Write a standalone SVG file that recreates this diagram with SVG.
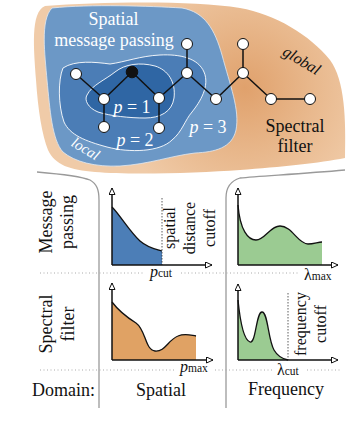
<svg xmlns="http://www.w3.org/2000/svg" width="346" height="422" viewBox="0 0 346 422">
<style>
.serif{font-family:"Liberation Serif","DejaVu Serif",serif;}
.lbl{font-family:"Liberation Serif","DejaVu Serif",serif;font-size:18px;fill:#111;}
.wl{font-family:"Liberation Serif","DejaVu Serif",serif;font-size:18px;fill:#fff;}
.small{font-family:"Liberation Serif","DejaVu Serif",serif;font-size:16px;fill:#111;}
.it{font-style:italic;}
.edge{stroke:#111;stroke-width:1.5;fill:none;}
.node{fill:#fff;stroke:#111;stroke-width:1;}
.axis{stroke:#111;stroke-width:1.5;fill:none;}
.curve{stroke:#111;stroke-width:1.3;fill:none;}
.sep{stroke:#9a9a9a;stroke-width:1.3;fill:none;}
.hdot{stroke:#aaa;stroke-width:1;stroke-dasharray:1 2.5;fill:none;}
.vdot{stroke:#333;stroke-width:0.8;stroke-dasharray:1.5 1.5;fill:none;}
</style>
<defs>
<radialGradient id="og" gradientUnits="userSpaceOnUse" cx="245" cy="88" r="130">
<stop offset="0" stop-color="#e0a16c"/>
<stop offset="0.5" stop-color="#e8b78b"/>
<stop offset="1" stop-color="#f0cba8"/>
</radialGradient>
<marker id="ar" markerWidth="10" markerHeight="10" refX="7" refY="3.5" orient="auto" markerUnits="userSpaceOnUse">
<path d="M0.5,0.5 L7,3.5 L0.5,6.5 Z" fill="#fff" stroke="#111" stroke-width="1"/>
</marker>
</defs>

<g id="regions">
<path id="global-region" d="M45,6 C100,2 190,0 240,8 C275,14 310,35 330,60 C345,80 346,120 345,158 C320,163 280,167 240,170 C200,173 130,175 95,172 C70,170 55,165 48,150 C42,135 38,110 36,80 C34,50 30,12 45,6 Z" fill="url(#og)"/>
<path id="hop3" d="M52,8 C90,4 150,6 182,8 C205,12 215,30 222,55 C230,85 240,110 236,130 C232,148 215,152 195,153 C170,156 150,164 120,166 C95,167 75,162 63,152 C52,140 50,110 47,80 C45,55 40,20 52,8 Z" fill="#6c98c6" stroke="#dfe8f2" stroke-width="0.8"/>
<path id="hop2" d="M63,68 C75,60 95,62 110,64 C125,62 140,56 160,55 C180,54 198,58 204,72 C210,86 200,102 192,112 C185,120 182,132 172,140 C160,152 130,153 107,147 C85,141 70,135 64,122 C58,105 58,80 63,68 Z" fill="#4b7db6" stroke="#fff" stroke-width="0.9"/>
<path id="hop1" d="M87,95 C92,85 105,80 115,72 C125,64 140,62 155,66 C168,70 176,82 174,98 C172,112 160,118 145,118 C130,118 110,116 98,112 C88,108 84,100 87,95 Z" fill="#2f66a4" stroke="#fff" stroke-width="0.9"/>
</g>

<g id="top-labels">
<text class="wl" x="113.5" y="25" text-anchor="middle">Spatial</text>
<text class="wl" x="114" y="46" text-anchor="middle">message passing</text>
<text class="lbl" x="295" y="132" text-anchor="middle" font-size="17.5">Spectral</text>
<text class="lbl" x="295" y="151.5" text-anchor="middle" font-size="17.5">filter</text>
<text class="wl" x="132" y="113" text-anchor="middle" font-size="17"><tspan class="it">p</tspan> = 1</text>
<text class="wl" x="135" y="146" text-anchor="middle" font-size="17"><tspan class="it">p</tspan> = 2</text>
<text class="wl" x="208" y="133" text-anchor="middle" font-size="17"><tspan class="it">p</tspan> = 3</text>
<text class="serif it" x="0" y="0" font-size="15" fill="#fff" text-anchor="middle" transform="translate(83,153) rotate(31)">local</text>
<text class="serif it" x="0" y="0" font-size="16" fill="#111" text-anchor="middle" transform="translate(299,65) rotate(31)">global</text>
</g>

<g id="connectors">
<line class="edge" x1="76" y1="74" x2="104" y2="99"/>
<line class="edge" x1="104" y1="99" x2="132" y2="72"/>
<line class="edge" x1="132" y1="72" x2="159" y2="98"/>
<line class="edge" x1="104" y1="99" x2="104" y2="127"/>
<line class="edge" x1="159" y1="98" x2="159" y2="128"/>
<line class="edge" x1="159" y1="98" x2="187" y2="73"/>
<line class="edge" x1="187" y1="73" x2="187" y2="44"/>
<line class="edge" x1="187" y1="73" x2="216" y2="99"/>
<line class="edge" x1="216" y1="99" x2="243" y2="73"/>
<line class="edge" x1="243" y1="73" x2="243" y2="44"/>
<line class="edge" x1="243" y1="73" x2="271" y2="99"/>
<line class="edge" x1="271" y1="99" x2="310" y2="99"/>
</g>

<g id="n-center"><circle cx="132" cy="72" r="5.8" fill="#111" stroke="#111" stroke-width="1"/></g>
<g id="n1"><circle class="node" cx="76" cy="74" r="5.5"/></g>
<g id="n2"><circle class="node" cx="104" cy="99" r="5.5"/></g>
<g id="n3"><circle class="node" cx="159" cy="98" r="5.5"/></g>
<g id="n4"><circle class="node" cx="104" cy="127" r="5.5"/></g>
<g id="n5"><circle class="node" cx="159" cy="128" r="5.5"/></g>
<g id="n6"><circle class="node" cx="187" cy="73" r="5.5"/></g>
<g id="n7"><circle class="node" cx="187" cy="44" r="5.5"/></g>
<g id="n8"><circle class="node" cx="216" cy="99" r="5.5"/></g>
<g id="n9"><circle class="node" cx="243" cy="73" r="5.5"/></g>
<g id="n10"><circle class="node" cx="243" cy="44" r="5.5"/></g>
<g id="n11"><circle class="node" cx="271" cy="99" r="5.5"/></g>
<g id="n12"><circle class="node" cx="310" cy="99" r="5.5"/></g>

<g id="separators">
<path class="sep" d="M37,172 C60,174 80,176 90,180 C97,184 99,190 99,200 L99,408"/>
<path class="sep" d="M345,170 C300,174 260,176 240,178 C230,181 226,188 226,198 L226,408"/>
<line class="hdot" x1="40" y1="273" x2="143" y2="273"/>
<line class="hdot" x1="181" y1="273" x2="300" y2="273"/>
<line class="hdot" x1="40" y1="370" x2="176" y2="370"/>
<line class="hdot" x1="215" y1="370" x2="273" y2="370"/>
<line class="hdot" x1="307" y1="370" x2="340" y2="370"/>
</g>

<g id="row-labels">
<text class="lbl" text-anchor="middle" transform="translate(52,222) rotate(-90)">Message</text>
<text class="lbl" text-anchor="middle" transform="translate(73,222) rotate(-90)">passing</text>
<text class="lbl" text-anchor="middle" transform="translate(52,324) rotate(-90)">Spectral</text>
<text class="lbl" text-anchor="middle" transform="translate(74,324) rotate(-90)">filter</text>
<text class="lbl" x="32" y="396">Domain:</text>
<text class="lbl" x="161" y="396" text-anchor="middle">Spatial</text>
<text class="lbl" x="286" y="395" text-anchor="middle">Frequency</text>
</g>

<g id="chart-mp-spatial">
<path d="M112,265 L112,207 C120,215 130,232 140,241 C148,248 155,249 162,251 L162,265 Z" fill="#4c7eb7"/>
<path class="curve" d="M112,207 C120,215 130,232 140,241 C148,248 155,249 162,251"/>
<line class="vdot" x1="162" y1="198" x2="162" y2="265"/>
<line class="axis" x1="112" y1="265" x2="112" y2="188" marker-end="url(#ar)"/>
<line class="axis" x1="112" y1="265" x2="212" y2="265" marker-end="url(#ar)"/>
<text class="small" text-anchor="middle" transform="translate(175,228) rotate(-90)">spatial</text>
<text class="small" text-anchor="middle" transform="translate(195,228) rotate(-90)">distance</text>
<text class="small" text-anchor="middle" transform="translate(215,228) rotate(-90)">cutoff</text>
<text class="small" x="150" y="277"><tspan class="it">p</tspan><tspan font-size="11.5">cut</tspan></text>
</g>

<g id="chart-mp-frequency">
<path d="M238,265 L238,205 C240,230 248,240 256,240 C265,240 270,226 280,226 C292,226 298,244 308,244 C314,244 318,242 322,242 L322,265 Z" fill="#9bcb92"/>
<path class="curve" d="M238,205 C240,230 248,240 256,240 C265,240 270,226 280,226 C292,226 298,244 308,244 C314,244 318,242 322,242"/>
<line class="axis" x1="238" y1="265" x2="238" y2="188" marker-end="url(#ar)"/>
<line class="axis" x1="238" y1="265" x2="338" y2="265" marker-end="url(#ar)"/>
<text class="small" x="304" y="280">λ<tspan font-size="11.5">max</tspan></text>
</g>

<g id="chart-sf-spatial">
<path d="M112,360 L112,302 C118,310 128,318 136,323 C146,330 145,350 155,351 C165,352 168,340 178,336 C185,333 190,335 196,336 L196,360 Z" fill="#e0a264"/>
<path class="curve" d="M112,302 C118,310 128,318 136,323 C146,330 145,350 155,351 C165,352 168,340 178,336 C185,333 190,335 196,336"/>
<line class="axis" x1="112" y1="360" x2="112" y2="283" marker-end="url(#ar)"/>
<line class="axis" x1="112" y1="360" x2="213" y2="360" marker-end="url(#ar)"/>
<text class="small" x="180" y="372"><tspan class="it">p</tspan><tspan font-size="11.5">max</tspan></text>
</g>

<g id="chart-sf-frequency">
<path d="M238,360 L238,300 C240,320 244,340 250,342 C256,344 256,312 262,312 C268,312 268,340 274,350 C278,357 283,359 288,360 Z" fill="#9bcb92"/>
<path class="curve" d="M238,300 C240,320 244,340 250,342 C256,344 256,312 262,312 C268,312 268,340 274,350 C278,357 283,359 288,360"/>
<line class="vdot" x1="288" y1="293" x2="288" y2="360"/>
<line class="axis" x1="238" y1="360" x2="238" y2="284" marker-end="url(#ar)"/>
<line class="axis" x1="238" y1="360" x2="338" y2="360" marker-end="url(#ar)"/>
<text class="small" text-anchor="middle" transform="translate(306,324) rotate(-90)">frequency</text>
<text class="small" text-anchor="middle" transform="translate(326,324) rotate(-90)">cutoff</text>
<text class="small" x="277" y="375">λ<tspan font-size="11.5">cut</tspan></text>
</g>
</svg>
